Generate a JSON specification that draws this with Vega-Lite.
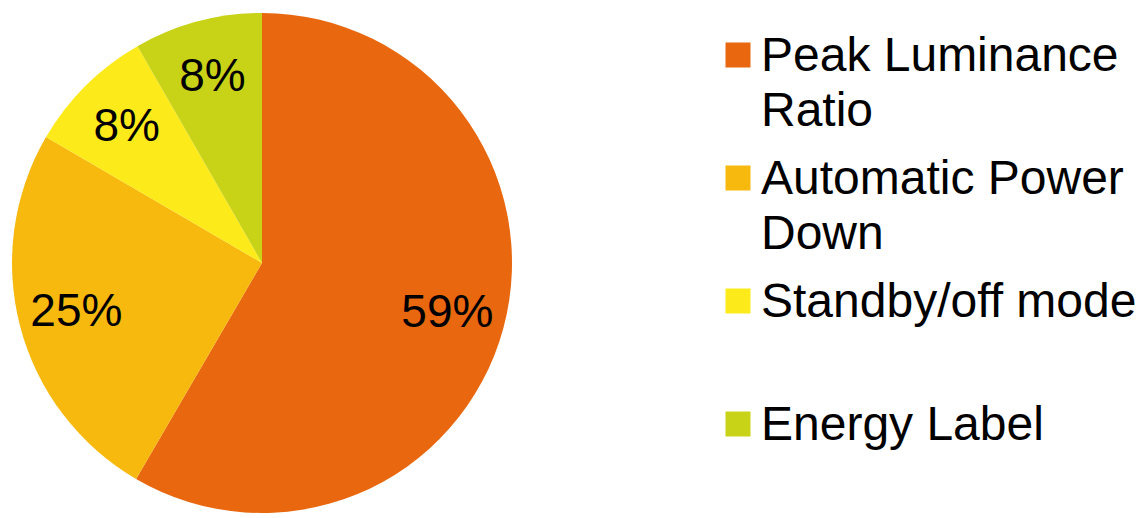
{
  "$schema": "https://vega.github.io/schema/vega-lite/v6.json",
  "width": 524,
  "height": 526,
  "padding": {"left": 0, "top": 0, "right": 5, "bottom": 0},
  "autosize": {"type": "pad"},
  "background": "white",
  "data": {
    "values": [
      {"category": "Peak Luminance Ratio", "value": 58.4, "label": "59%", "rank": 1},
      {"category": "Automatic Power Down", "value": 25, "label": "25%", "rank": 2},
      {"category": "Standby/off mode", "value": 8.3, "label": "8%", "rank": 3},
      {"category": "Energy Label", "value": 8.3, "label": "8%", "rank": 4}
    ]
  },
  "encoding": {
    "theta": {"field": "value", "type": "quantitative", "stack": true},
    "order": {"field": "rank", "type": "quantitative"}
  },
  "layer": [
    {
      "mark": {"type": "arc", "outerRadius": 250},
      "encoding": {
        "color": {
          "field": "category",
          "type": "nominal",
          "scale": {
            "domain": ["Peak Luminance Ratio", "Automatic Power Down", "Standby/off mode", "Energy Label"],
            "range": ["#E8670F", "#F7B90E", "#FDEA1B", "#C8D317"]
          },
          "legend": {
            "title": null,
            "orient": "none",
            "legendX": 714,
            "legendY": 31,
            "padding": 0,
            "symbolType": "square",
            "symbolSize": 625,
            "symbolStrokeWidth": 0,
            "symbolOpacity": 1,
            "labelFont": "Liberation Sans",
            "labelFontSize": 48,
            "labelColor": "black",
            "labelLimit": 0,
            "labelOffset": -1,
            "labelBaseline": "alphabetic",
            "rowPadding": 18,
            "labelExpr": "datum.label == 'Peak Luminance Ratio' ? ['Peak Luminance', 'Ratio'] : datum.label == 'Automatic Power Down' ? ['Automatic Power', 'Down'] : [datum.label, '']",
            "encode": {
              "labels": {"update": {"lineHeight": {"value": 55}, "dy": {"value": 16}}}
            }
          }
        }
      }
    },
    {
      "mark": {"type": "text", "radius": 192, "font": "Liberation Sans", "fontSize": 46, "color": "black"},
      "encoding": {
        "detail": {"field": "category", "type": "nominal"},
        "text": {"field": "label", "type": "nominal"}
      }
    }
  ]
}
